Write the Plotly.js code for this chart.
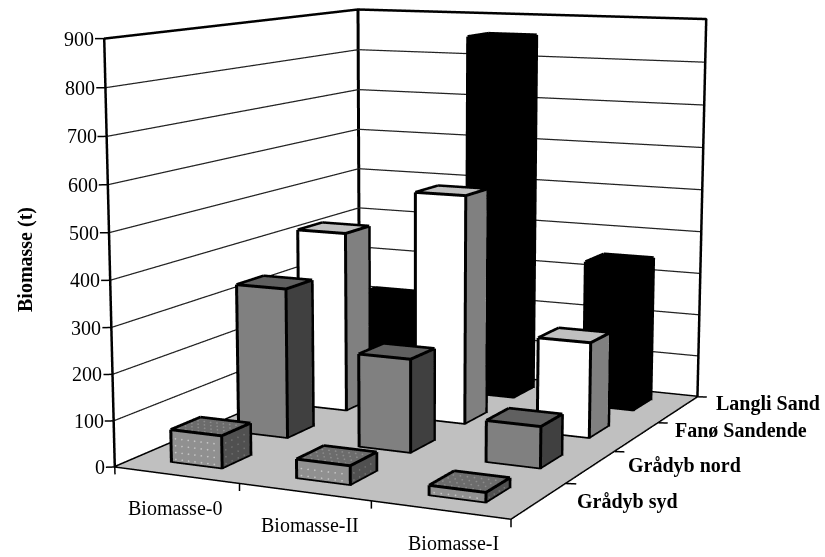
<!DOCTYPE html>
<html><head><meta charset="utf-8">
<script src="https://cdn.plot.ly/plotly-3.0.1.min.js"></script>
<style>html,body{margin:0;padding:0;width:825px;height:557px;overflow:hidden;background:#fff}
#c{position:absolute;left:-947px;top:-639px;width:2722px;height:1838px}</style>
</head><body><div id="c"></div>
<script>
var categories=['Biomasse-0','Biomasse-II','Biomasse-I'];
var seriesNames=['Grådyb syd','Grådyb nord','Fanø Sandende','Langli Sand'];
var gradybSyd=[70,40,20];
var gradybNord=[335,206,90];
var fanoSandende=[417,523,215];
var langliSand=[213,855,342];
var zTicks=[0,100,200,300,400,500,600,700,800,900];
var seriesValues=[gradybSyd,gradybNord,fanoSandende,langliSand];
var frontColors=['#909090','#808080','#ffffff','#000000'];
var topColors=['#6c6c6c','#606060','#c0c0c0','#000000'];
var sideColors=['#505050','#404040','#808080','#000000'];
var barW=0.40,barD=0.41,zMax=900,nx=categories.length,ny=seriesNames.length;
var labelLift=[-1,1.6,7.2,5.8];
var traces=[];
function seg(xs,ys,zs,color,width){return {type:'scatter3d',mode:'lines',x:xs,y:ys,z:zs,line:{color:color,width:width},hoverinfo:'skip',showlegend:false};}
var mat={ambient:1,diffuse:0,specular:0,roughness:1,fresnel:0};
traces.push({type:'mesh3d',x:[0,nx,nx,0],y:[0,0,ny,ny],z:[-.5,-.5,-.5,-.5],i:[0,0],j:[1,2],k:[2,3],color:'#c0c0c0',flatshading:true,lighting:mat,hoverinfo:'skip'});
var ex=.006,ey=.008,ez=2;
seriesValues.forEach(function(vals,s){
  var X=[],Y=[],Z=[],I=[],J=[],K=[],F=[],lx=[],ly=[],lz=[];
  var dx={f:[[],[],[]],t:[[],[],[]],r:[[],[],[]]};
  vals.forEach(function(v,c){
    var x0=c+.5-barW/2,x1=c+.5+barW/2,y0=s+.5-barD/2,y1=s+.5+barD/2,b=X.length;
    [[x0,y0,0],[x1,y0,0],[x1,y1,0],[x0,y1,0],[x0,y0,v],[x1,y0,v],[x1,y1,v],[x0,y1,v]].forEach(function(p){X.push(p[0]);Y.push(p[1]);Z.push(p[2]);});
    function q(a,bb,cc,d,col){I.push(b+a,b+a);J.push(b+bb,b+cc);K.push(b+cc,b+d);F.push(col,col);}
    q(0,1,5,4,frontColors[s]);
    q(1,2,6,5,sideColors[s]);
    q(4,5,6,7,topColors[s]);
    q(0,3,7,4,sideColors[s]);
    q(3,2,6,7,frontColors[s]);
    var E=[[x0-ex,y0-ey,0],[x1+ex,y0-ey,0],[x1+ex,y1+ey,0],[x0-ex,y1+ey,0],[x0-ex,y0-ey,v+ez],[x1+ex,y0-ey,v+ez],[x1+ex,y1+ey,v+ez],[x0-ex,y1+ey,v+ez]];
    [[0,1],[1,5],[5,4],[4,0],[1,2],[2,6],[6,5],[6,7],[7,4]].forEach(function(e){
      lx.push(E[e[0]][0],E[e[1]][0],null);ly.push(E[e[0]][1],E[e[1]][1],null);lz.push(E[e[0]][2],E[e[1]][2],null);
    });
    if(s===0){
      var px,py,pz;
      for(px=x0+.03;px<x1-.01;px+=.052)for(pz=8;pz<v-3;pz+=15){dx.f[0].push(px);dx.f[1].push(y0-.006);dx.f[2].push(pz);}
      for(py=y0+.05;py<y1-.02;py+=.09)for(pz=8;pz<v-3;pz+=15){dx.r[0].push(x1+.005);dx.r[1].push(py);dx.r[2].push(pz);}
      for(px=x0+.03;px<x1-.01;px+=.052)for(py=y0+.05;py<y1-.02;py+=.09){dx.t[0].push(px);dx.t[1].push(py);dx.t[2].push(v+1.5);}
    }
  });
  traces.push({type:'mesh3d',x:X,y:Y,z:Z,i:I,j:J,k:K,facecolor:F,flatshading:true,lighting:mat,hoverinfo:'skip',showscale:false});
  traces.push(seg(lx,ly,lz,'#000',6));
  if(s===0){
    [['f','#c4c4c4'],['t','#8c8c8c'],['r','#727272']].forEach(function(p){
      traces.push({type:'scatter3d',mode:'markers',x:dx[p[0]][0],y:dx[p[0]][1],z:dx[p[0]][2],marker:{size:1,color:p[1],line:{width:0}},hoverinfo:'skip',showlegend:false});
    });
  }
});
// wall gridlines
var gx=[],gy=[],gz=[];
zTicks.slice(1,-1).forEach(function(t){gx.push(0,0,nx,null);gy.push(0,ny,ny,null);gz.push(t,t,t,null);});
traces.push(seg(gx,gy,gz,'#222',2.5));
// frame
traces.push(seg([0,0,0,nx,nx],[0,0,ny,ny,ny],[0,zMax,zMax,zMax,0],'#000',5));
traces.push(seg([0,0],[ny,ny],[0,zMax],'#000',6));
traces.push(seg([0,0,nx,nx],[0,ny,ny,ny],[0,0,0,0],'#000',5));
traces.push(seg([0,nx,nx],[0,0,ny],[0,0,0],'#000',3));
// ticks
var tx=[],ty=[],tz=[];
zTicks.forEach(function(t){tx.push(0,-.053,null);ty.push(0,-.033,null);tz.push(t,t,null);});
for(var i=0;i<=nx;i++){tx.push(i,i,null);ty.push(0,0,null);tz.push(0,-16,null);}
for(var j=1;j<=ny;j++){tx.push(nx,nx+.07,null);ty.push(j,j+.024,null);tz.push(0,0,null);}
traces.push(seg(tx,ty,tz,'#000',3));
var ann=[],tf={family:'Liberation Serif',size:20,color:'#000'},bf={family:'Liberation Serif',size:20,color:'#000'};
zTicks.forEach(function(t){ann.push({x:0,y:0,z:t,text:String(t),showarrow:false,xanchor:'right',yanchor:'middle',xshift:-8,font:tf});});
categories.forEach(function(c,i){ann.push({x:i+.5,y:0,z:0,text:c,showarrow:false,xanchor:'center',yanchor:'middle',xshift:-1+7*i,yshift:-33,font:tf});});
seriesNames.forEach(function(c,i){ann.push({x:nx,y:i+.5,z:0,text:'<b>'+c+'</b>',showarrow:false,xanchor:'left',yanchor:'middle',xshift:36,yshift:labelLift[i],font:bf});});
function axis(extra){return Object.assign({visible:false,title:{text:''},showticklabels:false,ticks:'',showspikes:false,zeroline:false,showline:false,showgrid:false,showbackground:false},extra);}
var W=2722,H=1838,L=947,T=639;
var layout={width:W,height:H,margin:{l:0,r:0,t:0,b:0},paper_bgcolor:'#fff',showlegend:false,
 annotations:[{xref:'paper',yref:'paper',x:(L+25)/W,y:1-(T+260)/H,text:'<b>Biomasse (t)</b>',textangle:-90,showarrow:false,font:{family:'Liberation Serif',size:20,color:'#000'}}],
 scene:{domain:{x:[0,1],y:[0,1]},aspectmode:'manual',aspectratio:{x:1.1166,y:1.3668,z:1.0881},
  camera:{eye:{x:2.4036,y:-5.1418,z:.9036},center:{x:-.023,y:-.0286,z:-.1161},up:{x:0,y:0,z:1},projection:{type:'perspective'}},
  xaxis:axis({range:[-.06,nx+.1]}),
  yaxis:axis({range:[-.05,ny+.03]}),
  zaxis:axis({range:[-20,zMax+10]}),
  annotations:ann}};
Plotly.newPlot('c',traces,layout,{displayModeBar:false});
</script></body></html>
